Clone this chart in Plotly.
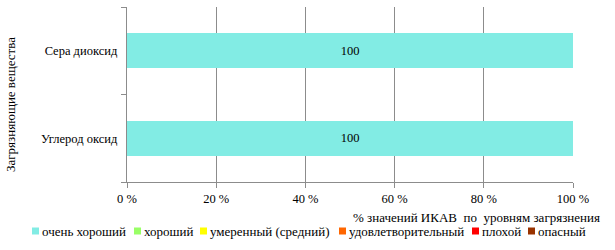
import plotly.graph_objects as go

categories = ["Углерод оксид", "Сера диоксид"]
levels = ["очень хороший", "хороший", "умеренный (средний)", "удовлетворительный", "плохой", "опасный"]
colors = ["#82ECE4", "#99FF66", "#FFFF00", "#FF6600", "#FF0000", "#993300"]
values = {
    "очень хороший": [100, 100],
    "хороший": [0, 0],
    "умеренный (средний)": [0, 0],
    "удовлетворительный": [0, 0],
    "плохой": [0, 0],
    "опасный": [0, 0],
}
tick_vals = [0, 20, 40, 60, 80, 100]
tick_text = ["0 %", "20 %", "40 %", "60 %", "80 %", "100 %"]
# legend marker left edges (pixels)
legend_px = [32, 134, 200, 339, 472, 528]

FONT = "'Liberation Serif', 'Times New Roman', serif"
W, H = 615, 250
L, R, T, B = 127, 42, 7, 68
PW, PH = W - L - R, H - T - B


def px_to_paper_x(px):
    return (px - L) / PW


def px_to_paper_y(py):
    return (H - B - py) / PH


fig = go.Figure()
for lvl, col in zip(levels, colors):
    vals = values[lvl]
    fig.add_trace(go.Bar(
        y=categories, x=vals, name=lvl, orientation="h",
        marker=dict(color=col, line=dict(width=0)),
        text=[str(v) if v > 0 else "" for v in vals],
        textposition="inside", insidetextanchor="middle",
        textfont=dict(family=FONT, size=12.5, color="black"),
        width=0.4, showlegend=False,
    ))

shapes = []
annotations = []
for lvl, col, px in zip(levels, colors, legend_px):
    shapes.append(dict(type="rect", xref="paper", yref="paper",
                       x0=px_to_paper_x(px), x1=px_to_paper_x(px + 7),
                       y0=px_to_paper_y(234.5), y1=px_to_paper_y(227.5),
                       fillcolor=col, line=dict(width=0), layer="above"))
    annotations.append(dict(text=lvl, xref="paper", yref="paper",
                            x=px_to_paper_x(px + 8), y=px_to_paper_y(231),
                            xanchor="left", yanchor="middle", showarrow=False,
                            font=dict(family=FONT, size=13, color="black")))

annotations.append(dict(text="% значений ИКАВ  по  уровням загрязнения", xref="paper", yref="paper",
                        x=px_to_paper_x(602), y=px_to_paper_y(217), xanchor="right", yanchor="middle",
                        showarrow=False, font=dict(family=FONT, size=13)))
annotations.append(dict(text="Загрязняющие вещества", xref="paper", yref="paper",
                        x=px_to_paper_x(10), y=px_to_paper_y(105), xanchor="center", yanchor="middle",
                        textangle=-90, showarrow=False, font=dict(family=FONT, size=13)))

fig.update_layout(
    barmode="stack",
    width=W, height=H,
    margin=dict(l=L, r=R, t=T, b=B),
    paper_bgcolor="white", plot_bgcolor="white",
    font=dict(family=FONT, size=12.5, color="black"),
    showlegend=False,
    xaxis=dict(range=[0, 100], tickvals=tick_vals, ticktext=tick_text,
               showgrid=True, gridcolor="#8C8C8C", gridwidth=1,
               showline=True, linecolor="#8C8C8C", ticks="outside", ticklen=5,
               tickcolor="#8C8C8C", zeroline=False, fixedrange=True,
               tickfont=dict(family=FONT, size=12.5)),
    yaxis=dict(showline=True, linecolor="#8C8C8C", ticks="outside", ticklen=5,
               tickcolor="#8C8C8C", tickson="boundaries", showgrid=False,
               ticksuffix="\u00a0\u00a0", fixedrange=True,
               tickfont=dict(family=FONT, size=12.5)),
    shapes=shapes,
    annotations=annotations,
)

fig.write_html("out.html")
